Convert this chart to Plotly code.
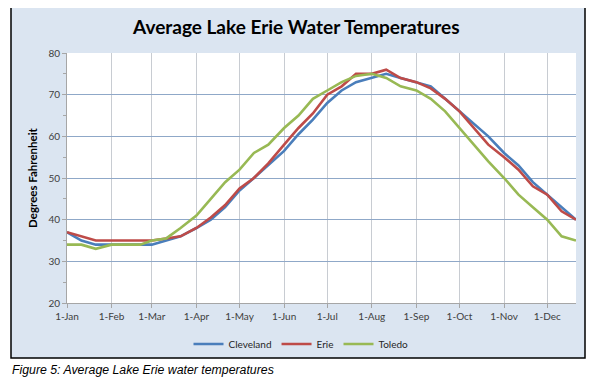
import plotly.graph_objects as go

# ---- data ----
dates = ["2023-01-01", "2023-01-11", "2023-01-21", "2023-02-01", "2023-02-11", "2023-02-21",
         "2023-03-01", "2023-03-11", "2023-03-21", "2023-04-01", "2023-04-11", "2023-04-21",
         "2023-05-01", "2023-05-11", "2023-05-21", "2023-06-01", "2023-06-11", "2023-06-21",
         "2023-07-01", "2023-07-11", "2023-07-21", "2023-08-01", "2023-08-11", "2023-08-21",
         "2023-09-01", "2023-09-11", "2023-09-21", "2023-10-01", "2023-10-11", "2023-10-21",
         "2023-11-01", "2023-11-11", "2023-11-21", "2023-12-01", "2023-12-11", "2023-12-21"]

cleveland = [37, 35, 34, 34, 34, 34, 34, 35, 36, 38, 40, 43, 47, 50, 53, 56.5, 60.5, 64,
             68, 71, 73, 74, 75, 74, 73, 72, 69, 66, 63, 60, 56, 53, 49, 46, 43, 40]
erie = [37, 36, 35, 35, 35, 35, 35, 35.5, 36, 38, 40.5, 43.5, 47.5, 50, 53.5, 58, 62, 65.5,
        70, 72, 75, 75, 76, 74, 73, 71.5, 69, 66, 62, 58, 55, 52, 48, 46, 42, 40]
toledo = [34, 34, 33, 34, 34, 34, 35, 35.5, 38, 41, 45, 49, 52, 56, 58, 62, 65, 69,
          71, 73, 74.5, 75, 74, 72, 71, 69, 66, 62, 58, 54, 50, 46, 43, 40, 36, 35]

tick_dates = ["2023-01-01", "2023-02-01", "2023-03-01", "2023-04-01", "2023-05-01", "2023-06-01",
              "2023-07-01", "2023-08-01", "2023-09-01", "2023-10-01", "2023-11-01", "2023-12-01"]
tick_labels = ["1-Jan", "1-Feb", "1-Mar", "1-Apr", "1-May", "1-Jun",
               "1-Jul", "1-Aug", "1-Sep", "1-Oct", "1-Nov", "1-Dec"]

series = [("Cleveland", cleveland, "#4a7ebb"),
          ("Erie", erie, "#be4b48"),
          ("Toledo", toledo, "#98b954")]

# the page body has an 8px margin, so the figure is drawn 8px in from the window corner
OFF = 8
W, H = 595 - OFF, 384 - OFF
L, R, T, B = 67 - OFF, 576 - OFF, 53 - OFF, 303 - OFF  # plot area in figure pixels


def px_x(x):  # x in window pixels -> paper
    return (x - OFF - L) / (R - L)


def px_y(y):  # y in window pixels -> paper
    return (B - (y - OFF)) / (B - T)


fig = go.Figure()
for name, vals, col in series:
    fig.add_trace(go.Scatter(x=dates, y=vals, name=name, mode="lines",
                             line=dict(color=col, width=2.6)))

font_main = "Lato, 'Open Sans', sans-serif"

fig.update_layout(
    width=W, height=H,
    margin=dict(l=L, r=W - R, t=T, b=H - B, pad=0),
    paper_bgcolor="white",
    plot_bgcolor="white",
    font=dict(family=font_main, size=10, color="#404040"),
    showlegend=True,
    legend=dict(orientation="h", x=px_x(301), xanchor="center", y=px_y(344), yanchor="middle",
                font=dict(size=10, color="#262626"), bgcolor="rgba(0,0,0,0)",
                itemwidth=30, tracegroupgap=0),
    shapes=[
        dict(type="rect", xref="paper", yref="paper", layer="below",
             x0=px_x(11), x1=px_x(585), y0=px_y(358), y1=px_y(5),
             fillcolor="#dbe5f1", line=dict(color="black", width=1.5)),
        dict(type="rect", xref="paper", yref="paper", layer="below",
             x0=0, x1=1, y0=0, y1=1, fillcolor="white", line=dict(width=0)),
    ],
    annotations=[
        dict(text="<b>Average Lake Erie Water Temperatures</b>", xref="paper", yref="paper",
             x=px_x(296), y=px_y(27), xanchor="center", yanchor="middle", showarrow=False,
             font=dict(family=font_main, size=19, color="black")),
        dict(text="<i>Figure 5: Average Lake Erie water temperatures</i>", xref="paper", yref="paper",
             x=px_x(10), y=px_y(370), xanchor="left", yanchor="middle", showarrow=False,
             font=dict(family="'Liberation Sans', Arial, sans-serif", size=12.3, color="black")),
    ],
)

fig.update_xaxes(
    type="date", range=["2023-01-01", "2023-12-21"],
    tickvals=tick_dates, ticktext=tick_labels,
    showgrid=True, gridcolor="#c8ccd2", gridwidth=1,
    showline=True, linecolor="#a6a6a6", linewidth=1,
    ticks="outside", ticklen=4, tickcolor="#a6a6a6",
    tickfont=dict(size=10, color="#404040"),
    zeroline=False,
)
fig.update_yaxes(
    range=[20, 80], dtick=10, tick0=20,
    showgrid=True, gridcolor="#8fa8c8", gridwidth=1,
    showline=True, linecolor="#a6a6a6", linewidth=1,
    ticks="outside", ticklen=4, tickcolor="#a6a6a6",
    minor=dict(dtick=5, ticks="outside", ticklen=3, tickcolor="#a6a6a6", showgrid=False),
    tickfont=dict(size=10, color="#404040"),
    title=dict(text="<b>Degrees Fahrenheit</b>", font=dict(size=11.5, color="black"), standoff=8),
    zeroline=False,
)

fig.write_html("out.html")
